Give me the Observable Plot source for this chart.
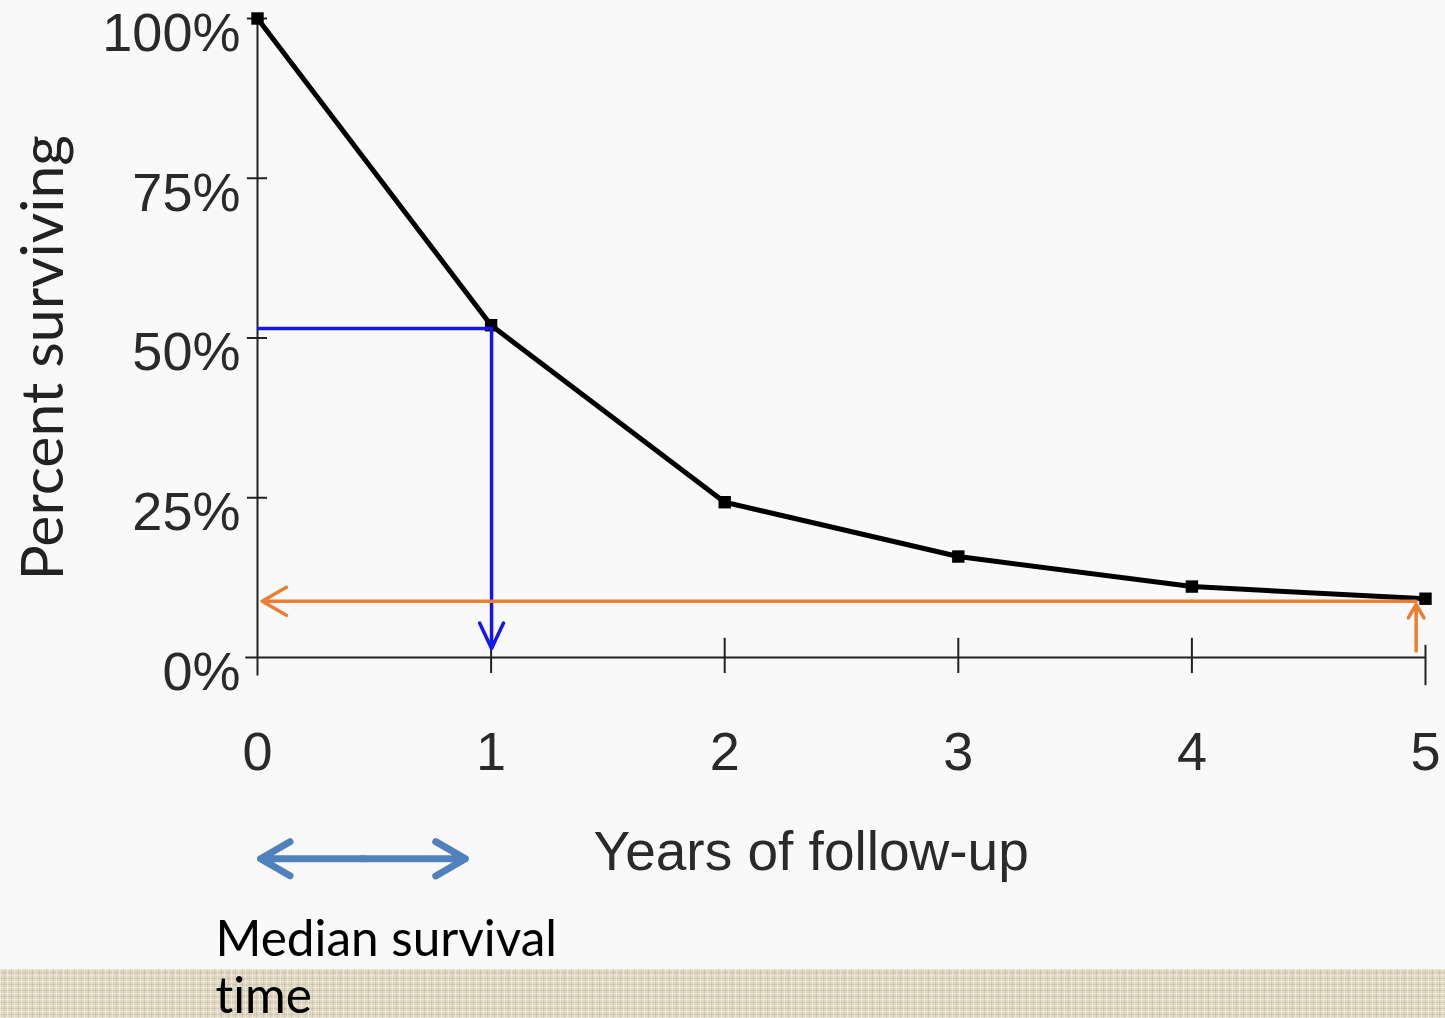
<!DOCTYPE html>
<html>
<head>
<meta charset="utf-8">
<script src="https://cdn.jsdelivr.net/npm/d3@7"></script>
<script src="https://cdn.jsdelivr.net/npm/@observablehq/plot@0.6"></script>
<style>
  html, body { margin: 0; padding: 0; width: 1445px; height: 1018px; overflow: hidden; background: #f9f9f9; }
  #band { position: absolute; left: 0; top: 969px; width: 1445px; height: 49px;
    background-color: #e0d7c1;
    background-image:
      repeating-linear-gradient(90deg, rgba(255,255,255,0.35) 0 1px, transparent 1px 4px, rgba(120,100,70,0.12) 4px 5px, transparent 5px 7px),
      repeating-linear-gradient(0deg, rgba(255,255,255,0.35) 0 1px, transparent 1px 3px, rgba(120,100,70,0.12) 3px 4px, transparent 4px 6px);
  }
  #chart { position: absolute; left: 0; top: 0; }
  svg text { font-variant-ligatures: none; font-feature-settings: "liga" 0, "clig" 0; }
</style>
</head>
<body>
<div id="band"></div>
<div id="chart"></div>
<script>
// Survival data
const years = [0, 1, 2, 3, 4, 5];
const surviving = [100, 52, 24.3, 15.8, 11.1, 9.2];
const yTicks = [0, 25, 50, 75, 100];
const yTickLabels = ["0%", "25%", "50%", "75%", "100%"];
const xTicks = [0, 1, 2, 3, 4, 5];
const xTickLabels = ["0", "1", "2", "3", "4", "5"];
const medianLevel = 51.5;     // blue guide level
const medianYear = 1.002;     // blue guide year
const fiveYearLevel = 8.8;    // orange guide level
const orangeX = 4.96;

const curve = years.map((x, i) => ({x, y: surviving[i]}));
const tickFont = "Liberation Sans, Arial, sans-serif";
const textFont = "Lato, Open Sans, sans-serif";

const chart = Plot.plot({
  width: 1445,
  height: 1018,
  marginLeft: 257,
  marginRight: 20,
  marginTop: 18,
  marginBottom: 361,
  style: {background: "transparent", overflow: "visible"},
  x: {domain: [0, 5], axis: null},
  y: {domain: [0, 100], axis: null},
  marks: [
    // axes
    Plot.ruleY([0], {x1: -0.05, x2: 5, stroke: "#222", strokeWidth: 2}),
    Plot.ruleX([0], {y1: 0, y2: 100, stroke: "#222", strokeWidth: 2}),
    Plot.ruleY(yTicks.filter(d => d > 0), {x1: -0.043, x2: 0.043, stroke: "#222", strokeWidth: 2}),
    Plot.ruleX([0], {y1: 0, y2: -2.9, stroke: "#222", strokeWidth: 2}),
    Plot.ruleX(xTicks.filter(d => d > 0 && d < 5), {y1: 3.0, y2: -2.5, stroke: "#222", strokeWidth: 2}),
    Plot.ruleX([5], {y1: 1.9, y2: -4.4, stroke: "#222", strokeWidth: 2}),
    // tick labels
    Plot.text(yTicks, {x: -0.073, y: d => d, text: (d, i) => yTickLabels[i], textAnchor: "end", dy: 15,
      fontSize: 54, fill: "#2a2a2a", fontFamily: tickFont}),
    Plot.text(xTicks, {x: d => d, y: -14.9, text: (d, i) => xTickLabels[i], textAnchor: "middle",
      fontSize: 54, fill: "#2a2a2a", fontFamily: tickFont}),
    // axis titles
    Plot.text(["Years of follow-up"], {x: 2.37, y: -30.5, text: d => d, fontSize: 55, fill: "#2a2a2a", fontFamily: tickFont}),
    Plot.text(["Percent surviving"], {x: -0.915, y: 46.9, text: d => d, rotate: -90, fontSize: 59, fill: "#222", fontFamily: textFont}),
    // survival curve
    Plot.line(curve, {x: "x", y: "y", stroke: "black", strokeWidth: 5}),
    Plot.dot(curve, {x: "x", y: "y", symbol: "square", r: 7, fill: "black"}),
    // blue median guides
    Plot.ruleY([medianLevel], {x1: 0, x2: medianYear, stroke: "#1515f0", strokeWidth: 3.5}),
    Plot.arrow([0], {x1: medianYear, y1: medianLevel, x2: medianYear, y2: 1.4, stroke: "#1515f0", strokeWidth: 3.5, headLength: 12, headAngle: 50}),
    // orange 5-year guides
    Plot.arrow([0], {x1: orangeX, y1: fiveYearLevel, x2: 0.02, y2: fiveYearLevel, stroke: "#ed7d31", strokeWidth: 3.5, headLength: 12, headAngle: 60}),
    Plot.arrow([0], {x1: orangeX, y1: 1.0, x2: orangeX, y2: 8.3, stroke: "#ed7d31", strokeWidth: 3.5, headLength: 12, headAngle: 60}),
    // double arrow (median survival time)
    Plot.arrow([0], {x1: 0.45, y1: -31.5, x2: 0.013, y2: -31.5, stroke: "#4f81bd", strokeWidth: 7, strokeLinecap: "round", headLength: 22, headAngle: 60}),
    Plot.arrow([0], {x1: 0.45, y1: -31.5, x2: 0.89, y2: -31.5, stroke: "#4f81bd", strokeWidth: 7, strokeLinecap: "round", headLength: 22, headAngle: 60}),
    // caption
    Plot.text(["Median survival\ntime"], {x: -0.18, y: -40.4, text: d => d, textAnchor: "start", lineAnchor: "top",
      lineHeight: 1.15, fontSize: 49.5, fill: "#000", fontFamily: textFont})
  ]
});
document.getElementById("chart").appendChild(chart);
</script>
</body>
</html>
